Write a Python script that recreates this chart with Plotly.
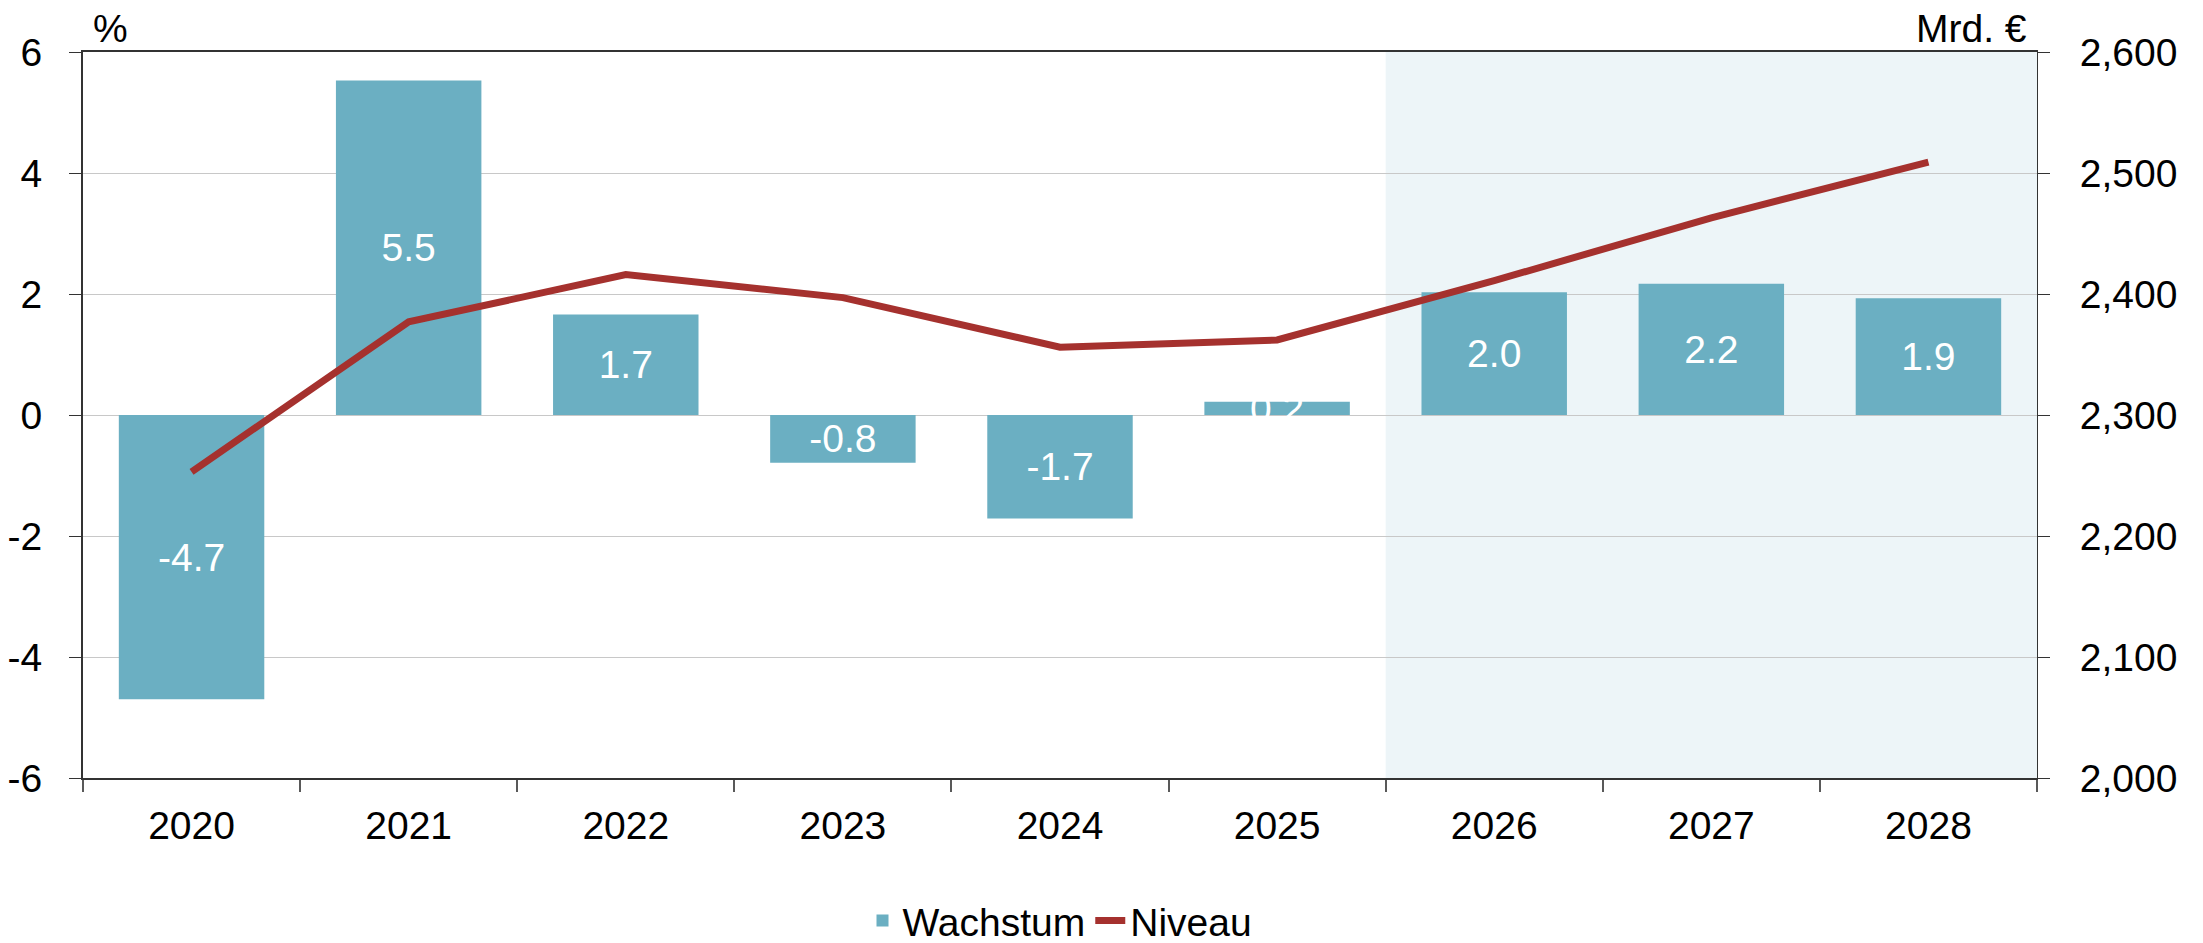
import plotly.graph_objects as go

years = ["2020", "2021", "2022", "2023", "2024", "2025", "2026", "2027", "2028"]
growth = [-4.7, 5.53, 1.66, -0.79, -1.71, 0.22, 2.03, 2.17, 1.93]
growth_labels = ["-4.7", "5.5", "1.7", "-0.8", "-1.7", "0.2", "2.0", "2.2", "1.9"]
level = [2253, 2377, 2416, 2397, 2356, 2362, 2411, 2463, 2509]

left_ticks = [-6, -4, -2, 0, 2, 4, 6]
left_tick_text = ["-6", "-4", "-2", "0", "2", "4", "6"]

FONT = "Liberation Sans, Arial, sans-serif"
FS = 39
BAR_COLOR = "#6BAFC2"
LINE_COLOR = "#A5312E"

fig = go.Figure()
fig.add_trace(go.Bar(
    x=years, y=growth, name="Wachstum",
    marker=dict(color=BAR_COLOR, line=dict(width=0)),
    text=growth_labels, textposition="inside", insidetextanchor="middle",
    textangle=0, textfont=dict(color="white", size=FS, family=FONT),
    cliponaxis=False, yaxis="y",
))
fig.add_trace(go.Scatter(
    x=years, y=level, name="Niveau", mode="lines",
    line=dict(color=LINE_COLOR, width=7), yaxis="y2",
))

# forecast shading
fig.add_shape(type="rect", xref="x", yref="paper", x0=5.5, x1=8.5, y0=0, y1=1,
              fillcolor="#EDF5F8", line=dict(width=0), layer="below")

fig.update_layout(
    width=2195, height=935,
    margin=dict(l=75, r=166, t=44, b=165),
    paper_bgcolor="white", plot_bgcolor="white",
    font=dict(family=FONT, size=FS, color="black"),
    bargap=0.33,
    uniformtext=dict(minsize=FS, mode="show"),
    showlegend=True,
    legend=dict(orientation="h", x=0.5, xanchor="center", xref="paper",
                y=0.024, yanchor="middle", yref="container",
                font=dict(size=FS, family=FONT), bgcolor="rgba(0,0,0,0)"),
    xaxis=dict(type="category", tickson="boundaries", ticks="outside", ticklen=12,
               tickcolor="#595959", tickwidth=2, showline=True, linecolor="#333333",
               linewidth=2, mirror=True, showgrid=False, ticklabelstandoff=12,
               automargin=False),
    yaxis=dict(range=[-6, 6], tickvals=left_ticks, ticktext=left_tick_text,
               showgrid=True, gridcolor="#C8C8C8", gridwidth=1, zeroline=False,
               ticks="outside", ticklen=12, tickcolor="#333333", showline=True,
               linecolor="#333333", linewidth=2, ticklabelstandoff=19,
               automargin=False),
    yaxis2=dict(overlaying="y", side="right", range=[2000, 2600], dtick=100,
                tickformat=",", showgrid=False, zeroline=False, ticks="outside",
                ticklen=12, tickcolor="#333333", showline=True, linecolor="#333333",
                linewidth=1, ticklabelstandoff=22, automargin=False),
    annotations=[
        dict(text="%", xref="paper", yref="paper", x=0, y=1, xanchor="left",
             yanchor="bottom", xshift=8, yshift=0, showarrow=False,
             font=dict(size=FS, family=FONT)),
        dict(text="Mrd. €", xref="paper", yref="paper", x=1, y=1, xanchor="right",
             yanchor="bottom", xshift=-8, yshift=0, showarrow=False,
             font=dict(size=FS, family=FONT)),
    ],
)

fig.write_html("out.html")
